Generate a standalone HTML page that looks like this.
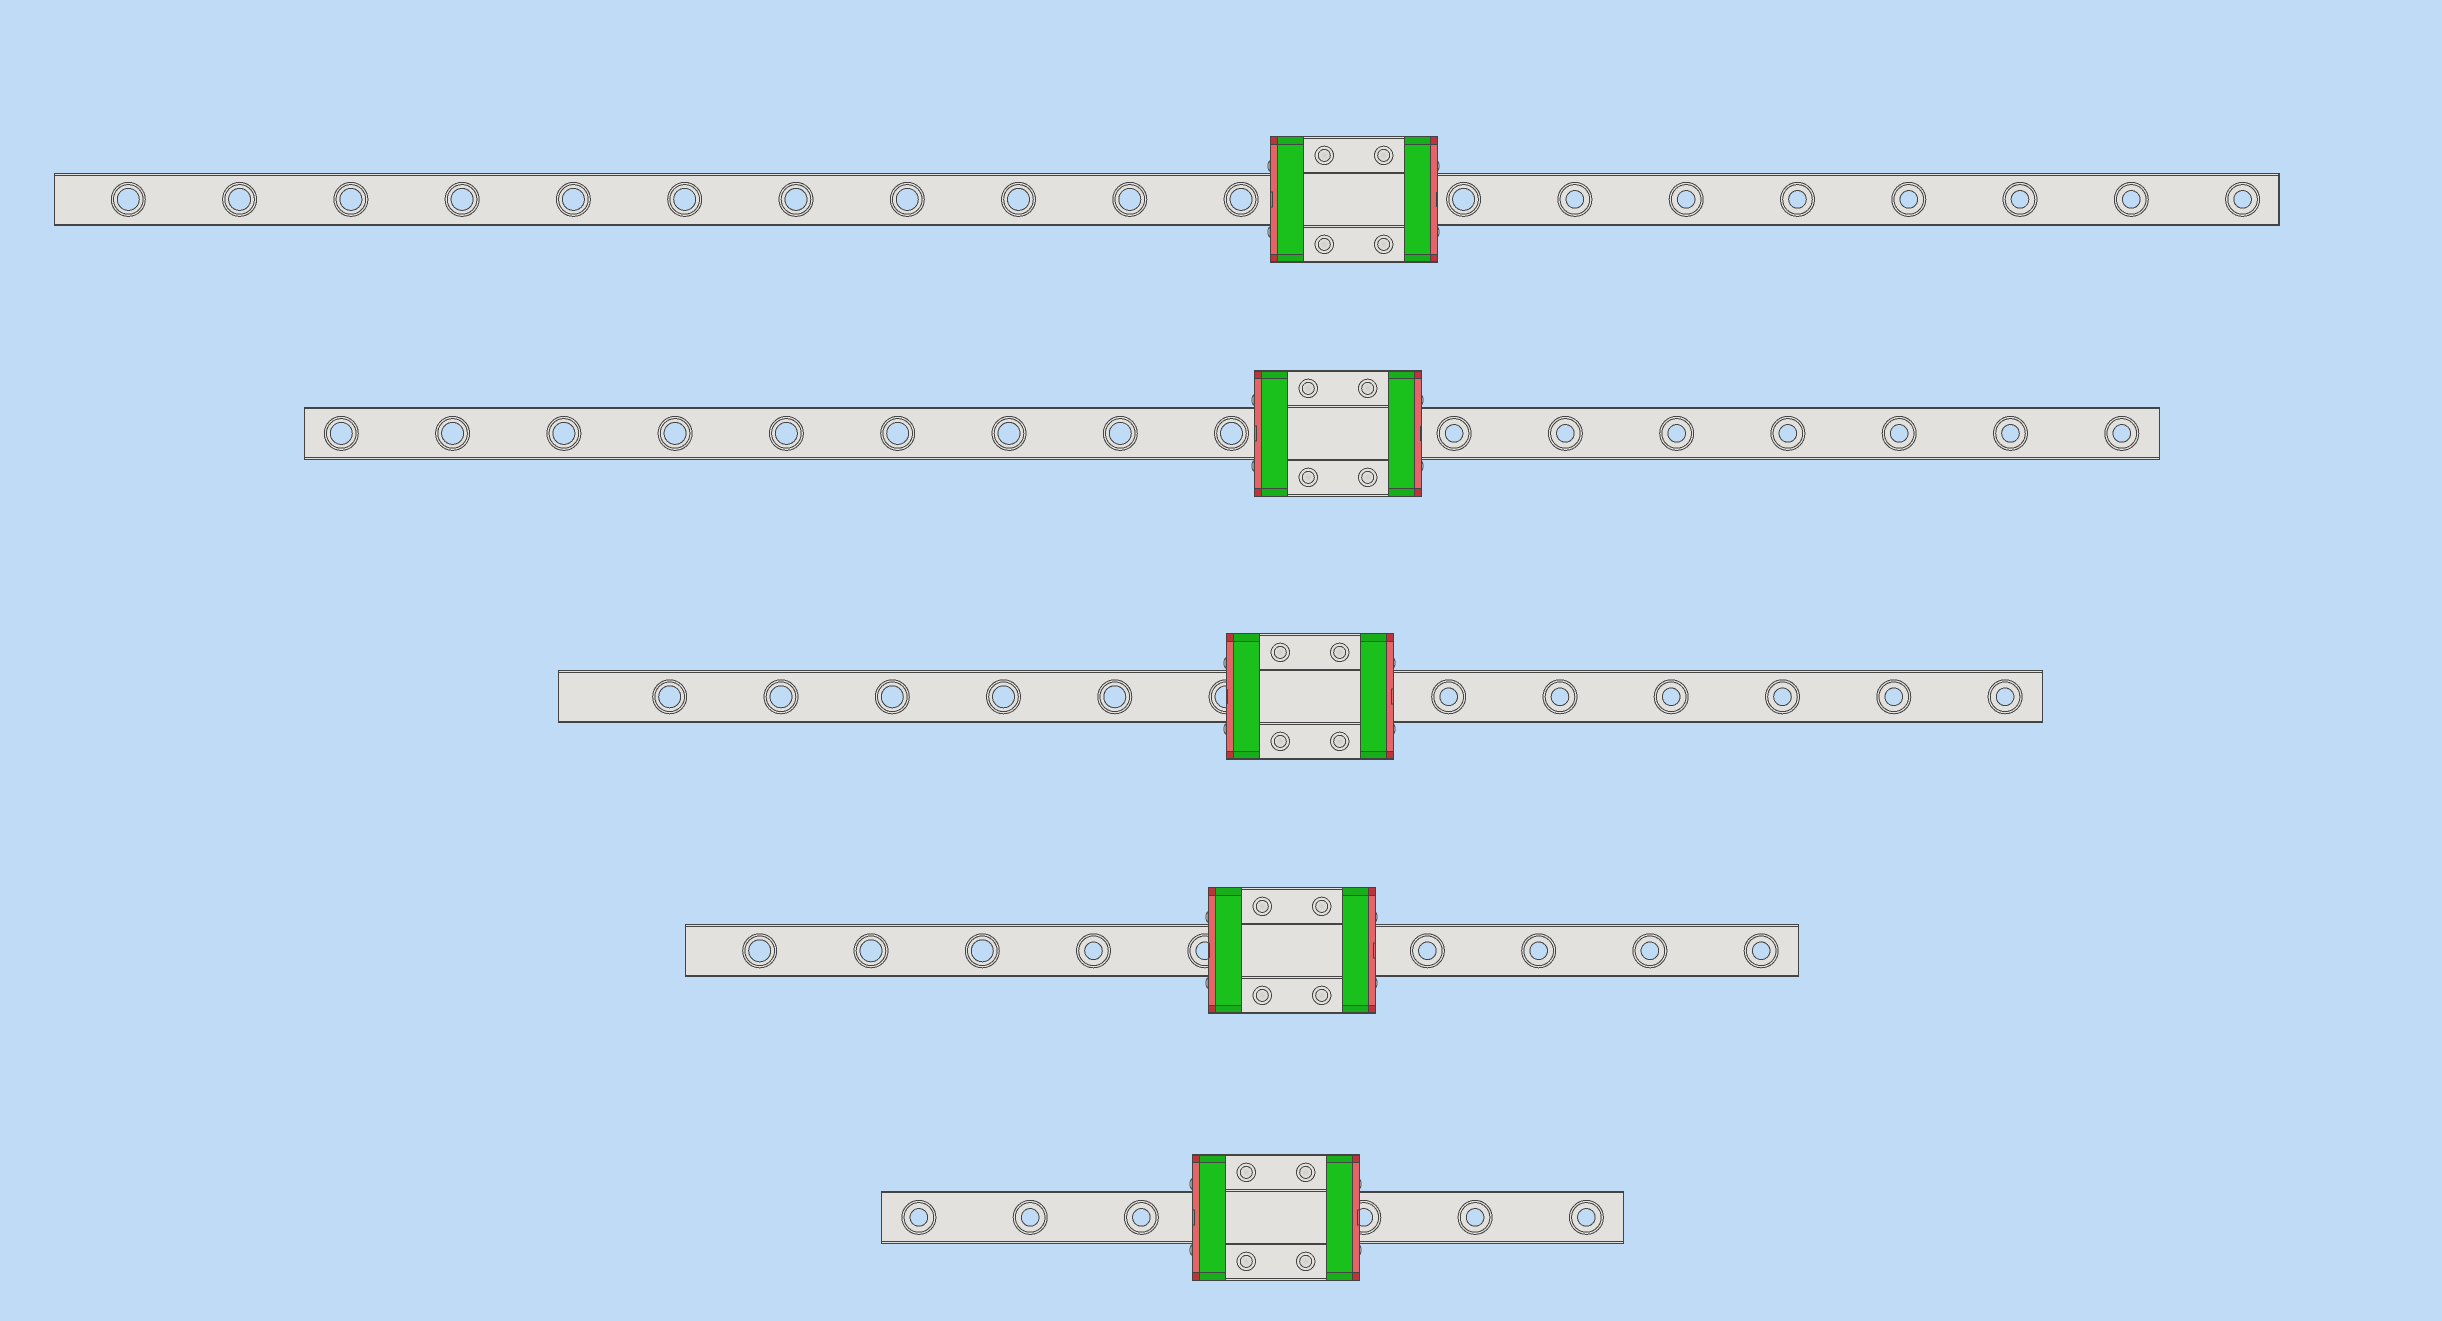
<!DOCTYPE html>
<html><head><meta charset="utf-8"><title>Linear rails</title>
<style>html,body{margin:0;padding:0;background:#c0dbf5}svg{display:block}</style></head>
<body>
<svg xmlns="http://www.w3.org/2000/svg" width="2442" height="1321" viewBox="0 0 2442 1321" shape-rendering="crispEdges">
<defs>
<radialGradient id="b"><stop offset="0" stop-color="#cfcec9"/><stop offset="1" stop-color="#e2e1dd"/></radialGradient>
<g id="L" fill="none" stroke="#444" stroke-width="1"><circle r="17" fill="#e2e1dd"/><circle r="14.8"/><circle r="11" fill="#c0dbf5"/></g>
<g id="S" fill="none" stroke="#444" stroke-width="1"><circle r="17" fill="#e2e1dd"/><circle r="14.8"/><circle r="8.8" fill="#c0dbf5"/></g>
<g id="bolt" stroke="#444" stroke-width="1"><circle r="9.2" fill="#e2e1dd"/><circle r="6" fill="url(#b)"/></g>
<g id="ends">
<path d="M0 25 a2 5 0 0 0 0 10 z M0 91 a2 5 0 0 0 0 10 z M167 25 a2 5 0 0 1 0 10 z M167 91 a2 5 0 0 1 0 10 z" fill="#d8d8d8" stroke="#555" stroke-width="1"/>
<rect x="0" y="0" width="33" height="127" fill="#1ac01c"/>
<rect x="134" y="0" width="34" height="127" fill="#1ac01c"/>
<rect x="7" y="0" width="26" height="8" fill="#18ae1b"/><rect x="134" y="0" width="26" height="8" fill="#18ae1b"/>
<rect x="7" y="119" width="26" height="8" fill="#18ae1b"/><rect x="134" y="119" width="26" height="8" fill="#18ae1b"/>
<rect x="0" y="0" width="7" height="127" fill="#e46468"/><rect x="160" y="0" width="8" height="127" fill="#e46468"/>
<rect x="0" y="0" width="7" height="8" fill="#bd343b"/><rect x="160" y="0" width="8" height="8" fill="#bd343b"/>
<rect x="0" y="119" width="7" height="8" fill="#bd343b"/><rect x="160" y="119" width="8" height="8" fill="#bd343b"/>
<rect x="33" y="0" width="101" height="127" fill="#e2e1dd"/>
<g fill="#444">
<rect x="0" y="0" width="1" height="127"/><rect x="167" y="0" width="1" height="127"/>
<rect x="7" y="0" width="1" height="127"/><rect x="160" y="0" width="1" height="127"/>
<rect x="33" y="0" width="1" height="127"/><rect x="134" y="0" width="1" height="127"/>
<rect x="0" y="8" width="33" height="1"/><rect x="134" y="8" width="34" height="1"/>
<rect x="0" y="118" width="33" height="1"/><rect x="134" y="118" width="34" height="1"/>
</g>
</g>
<g id="A">
<use href="#ends"/>
<g fill="#444">
<rect x="0" y="0" width="168" height="1"/><rect x="33" y="2" width="101" height="1"/>
<rect x="33" y="36" width="101" height="2"/>
<rect x="33" y="89" width="101" height="1"/><rect x="33" y="91" width="101" height="1"/>
<rect x="0" y="125" width="168" height="2"/>
</g>
<use href="#bolt" x="54.3" y="19.4"/><use href="#bolt" x="113.7" y="19.4"/>
<use href="#bolt" x="54.3" y="108.4"/><use href="#bolt" x="113.7" y="108.4"/>
</g>
<g id="B">
<use href="#ends"/>
<g fill="#444">
<rect x="0" y="0" width="168" height="2"/>
<rect x="33" y="35" width="101" height="1"/><rect x="33" y="37" width="101" height="1"/>
<rect x="33" y="89" width="101" height="2"/>
<rect x="33" y="124" width="101" height="1"/><rect x="0" y="126" width="168" height="1"/>
</g>
<use href="#bolt" x="54.3" y="18.4"/><use href="#bolt" x="113.7" y="18.4"/>
<use href="#bolt" x="54.3" y="107.4"/><use href="#bolt" x="113.7" y="107.4"/>
</g>
<g id="tO"><rect x="0.5" y="0" width="2" height="15" fill="none" stroke="#444"/></g>
<g id="tT"><rect x="0" y="0" width="2" height="15" fill="#444"/></g>
</defs>
<rect width="2442" height="1321" fill="#c0dbf5"/>

<!-- Row 1 -->
<rect x="54" y="173" width="2225" height="53" fill="#e2e1dd"/>
<g fill="#444"><rect x="54" y="173" width="2226" height="1"/><rect x="54" y="175" width="2226" height="1"/><rect x="54" y="224" width="2226" height="2"/><rect x="54" y="173" width="1" height="53"/><rect x="2278" y="173" width="2" height="53"/></g>
<g transform="translate(0,199.4)">
<use href="#L" x="128.3"/><use href="#L" x="239.6"/><use href="#L" x="350.9"/><use href="#L" x="462.1"/><use href="#L" x="573.4"/><use href="#L" x="684.7"/><use href="#L" x="796"/><use href="#L" x="907.3"/><use href="#L" x="1018.5"/><use href="#L" x="1129.8"/><use href="#L" x="1241.1"/>
<use href="#L" x="1463.6"/><use href="#S" x="1574.9"/><use href="#S" x="1686.2"/><use href="#S" x="1797.5"/><use href="#S" x="1908.8"/><use href="#S" x="2020"/><use href="#S" x="2131.3"/><use href="#S" x="2242.6"/>
</g>
<use href="#A" x="1270" y="136"/>
<use href="#tO" x="1270" y="192"/><use href="#tT" x="1436" y="192"/>

<!-- Row 2 -->
<rect x="304" y="407" width="1856" height="53" fill="#e2e1dd"/>
<g fill="#444"><rect x="304" y="407" width="1856" height="2"/><rect x="304" y="457" width="1856" height="1"/><rect x="304" y="459" width="1856" height="1"/><rect x="304" y="407" width="1" height="53"/><rect x="2159" y="407" width="1" height="53"/></g>
<g transform="translate(0,433.4)">
<use href="#L" x="341.3"/><use href="#L" x="452.6"/><use href="#L" x="563.9"/><use href="#L" x="675.1"/><use href="#L" x="786.4"/><use href="#L" x="897.7"/><use href="#L" x="1009"/><use href="#L" x="1120.3"/><use href="#L" x="1231.5"/>
<use href="#S" x="1454.1"/><use href="#S" x="1565.4"/><use href="#S" x="1676.7"/><use href="#S" x="1787.9"/><use href="#S" x="1899.2"/><use href="#S" x="2010.5"/><use href="#S" x="2121.8"/>
</g>
<use href="#B" x="1254" y="370"/>
<use href="#tO" x="1254" y="426"/><use href="#tT" x="1420" y="426"/>

<!-- Row 3 -->
<rect x="558" y="670" width="1485" height="53" fill="#e2e1dd"/>
<g fill="#444"><rect x="558" y="670" width="1485" height="1"/><rect x="558" y="672" width="1485" height="1"/><rect x="558" y="721" width="1485" height="2"/><rect x="558" y="670" width="1" height="53"/><rect x="2042" y="670" width="1" height="53"/></g>
<g transform="translate(0,696.8)">
<use href="#L" x="669.7"/><use href="#L" x="781"/><use href="#L" x="892.3"/><use href="#L" x="1003.5"/><use href="#L" x="1114.8"/><use href="#L" x="1226.1"/>
<use href="#S" x="1448.7"/><use href="#S" x="1560"/><use href="#S" x="1671.2"/><use href="#S" x="1782.5"/><use href="#S" x="1893.8"/><use href="#S" x="2005.1"/>
</g>
<use href="#A" x="1226" y="633"/>
<use href="#tT" x="1226" y="689"/><use href="#tO" x="1391" y="689"/>

<!-- Row 4 -->
<rect x="685" y="924" width="1114" height="53" fill="#e2e1dd"/>
<g fill="#444"><rect x="685" y="924" width="1114" height="1"/><rect x="685" y="926" width="1114" height="1"/><rect x="685" y="975" width="1114" height="2"/><rect x="685" y="924" width="1" height="53"/><rect x="1798" y="924" width="1" height="53"/></g>
<g transform="translate(0,950.8)">
<use href="#L" x="759.7"/><use href="#L" x="871"/><use href="#L" x="982.3"/><use href="#S" x="1093.5"/><use href="#S" x="1204.8"/>
<use href="#S" x="1427.4"/><use href="#S" x="1538.7"/><use href="#S" x="1649.9"/><use href="#S" x="1761.2"/>
</g>
<use href="#A" x="1208" y="887"/>
<use href="#tT" x="1208" y="943"/><use href="#tO" x="1373" y="943"/>

<!-- Row 5 -->
<rect x="881" y="1191" width="743" height="53" fill="#e2e1dd"/>
<g fill="#444"><rect x="881" y="1191" width="743" height="2"/><rect x="881" y="1241" width="743" height="1"/><rect x="881" y="1243" width="743" height="1"/><rect x="881" y="1191" width="1" height="53"/><rect x="1623" y="1191" width="1" height="53"/></g>
<g transform="translate(0,1217.4)">
<use href="#S" x="918.9"/><use href="#S" x="1030.2"/><use href="#S" x="1141.4"/>
<use href="#S" x="1363.8"/><use href="#S" x="1475.1"/><use href="#S" x="1586.4"/>
</g>
<use href="#B" x="1192" y="1154"/>
<use href="#tO" x="1192" y="1210"/><use href="#tO" x="1357" y="1210"/>
</svg>
</body></html>
